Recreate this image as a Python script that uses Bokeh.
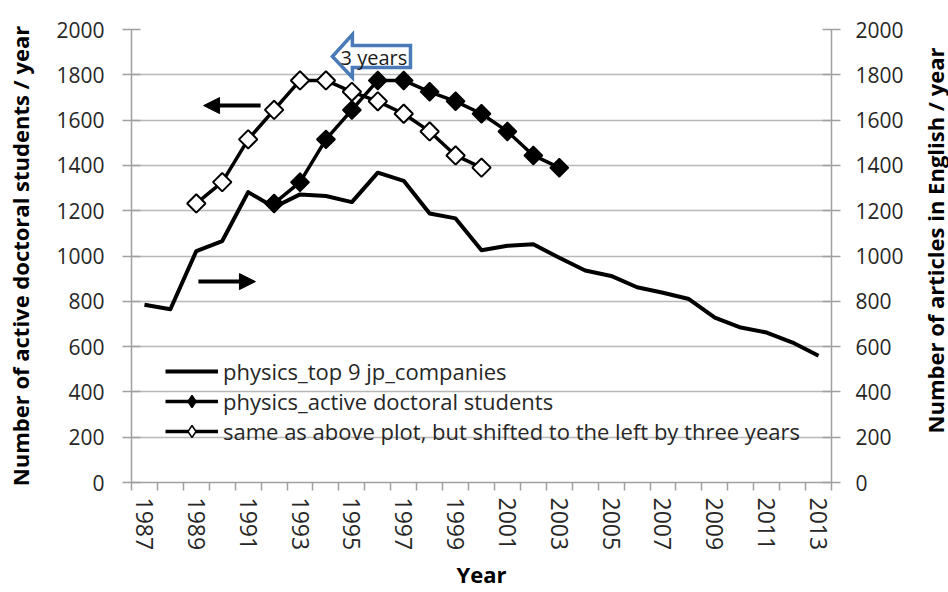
import math
from bokeh.plotting import figure
from bokeh.layouts import row
from bokeh.models import (Range1d, LinearAxis, FixedTicker, Grid, Legend, LegendItem,
                          Arrow, NormalHead, Label, PolyAnnotation)
from bokeh.embed import file_html
from bokeh.resources import INLINE

# ---------------- data ----------------
company_years = list(range(1987, 2014))
company_articles = [785, 765, 1022, 1066, 1282, 1215, 1272, 1265, 1238, 1368, 1332, 1188,
                    1166, 1025, 1045, 1052, 992, 936, 912, 862, 838, 810, 728, 684, 662, 618, 560]

student_years = list(range(1992, 2004))
student_counts = [1232, 1326, 1515, 1645, 1775, 1775, 1725, 1683, 1628, 1550, 1444, 1390]

shifted_years = list(range(1989, 2001))
shifted_counts = [1232, 1326, 1515, 1645, 1775, 1775, 1725, 1683, 1628, 1550, 1444, 1390]

y_ticks = [0, 200, 400, 600, 800, 1000, 1200, 1400, 1600, 1800, 2000]
year_labels = list(range(1987, 2014, 2))
year_bounds = [1986.5 + i for i in range(28)]

legend_labels = ["physics_top 9 jp_companies",
                 "physics_active doctoral students",
                 "same as above plot, but shifted to the left by three years"]

left_title = "Number of active doctoral students / year"
right_title = "Number of articles in English / year"
bottom_title = "Year"

# annotation geometry (data units)
left_arrow = dict(x_start=1991.48, x_end=1989.28, y=1664)
right_arrow = dict(x_start=1989.08, x_end=1991.28, y=887)
callout_xs = [1994.25, 1995.02, 1995.02, 1997.26, 1997.26, 1995.02, 1995.02]
callout_ys = [1881, 1978, 1929, 1929, 1832, 1832, 1788]
callout_text_pos = (1995.85, 1878)

FONT = "Open Sans"
TXT = "#262626"
AXC = "#a0a0a0"

H = 592
RW = 34                    # right strip holding the upward-reading right title
PW = 948 - RW              # main figure width
BL, BT, FW, FH = 131, 29, 700, 453

p = figure(width=PW, height=H, x_range=Range1d(1986.5, 2013.5), y_range=Range1d(0, 2000),
           x_axis_type=None, y_axis_type=None, output_backend="svg", toolbar_location=None,
           min_border_left=BL, min_border_right=PW - BL - FW, min_border_top=BT,
           min_border_bottom=H - BT - FH)
p.extra_y_ranges = {"right": Range1d(0, 2000)}
p.outline_line_color = None

p.add_layout(Grid(dimension=1, ticker=FixedTicker(ticks=y_ticks),
                  grid_line_color="#b8b8b8", grid_line_width=1.5))

def style_axis(ax):
    ax.axis_line_color = AXC
    ax.axis_line_width = 1.5
    ax.major_label_text_font = FONT
    ax.major_label_text_color = TXT
    ax.axis_label_text_font = FONT
    ax.axis_label_text_font_size = "22px"
    ax.axis_label_text_font_style = "bold"
    ax.axis_label_text_color = "black"

def style_y(ax):
    style_axis(ax)
    ax.ticker = FixedTicker(ticks=y_ticks)
    ax.major_tick_line_color = AXC
    ax.major_tick_line_width = 1.5
    ax.major_tick_in = 9
    ax.major_tick_out = 9
    ax.minor_tick_line_color = None
    ax.major_label_text_font_size = "21px"

yl = LinearAxis(axis_label=left_title)
style_y(yl)
yl.major_label_standoff = 18
yl.axis_label_standoff = 18
p.add_layout(yl, "left")

yr = LinearAxis(y_range_name="right")
style_y(yr)
yr.major_label_standoff = 15
p.add_layout(yr, "right")

xa = LinearAxis(axis_label=bottom_title)
style_axis(xa)
xa.ticker = FixedTicker(ticks=year_labels, minor_ticks=year_bounds)
xa.major_tick_line_color = None
xa.major_tick_out = 8
xa.major_tick_in = 0
xa.minor_tick_line_color = AXC
xa.minor_tick_line_width = 1.5
xa.minor_tick_out = 8
xa.minor_tick_in = 0
xa.major_label_orientation = "vertical"
xa.major_label_standoff = 7
xa.major_label_text_font_size = "23px"
xa.axis_label_standoff = 6
p.add_layout(xa, "below")

# ---------------- series ----------------
r1 = p.line(company_years, company_articles, y_range_name="right",
            line_color="black", line_width=4, line_join="round")

r2l = p.line(student_years, student_counts, line_color="black", line_width=3.5)
r2m = p.scatter(student_years, student_counts, marker="square", size=13, angle=math.pi / 4,
                fill_color="black", line_color="black", line_width=1.5)

r3l = p.line(shifted_years, shifted_counts, line_color="black", line_width=3.5)
r3m = p.scatter(shifted_years, shifted_counts, marker="square", size=13, angle=math.pi / 4,
                fill_color="white", line_color="black", line_width=2)

# legend-only diamond swatches (no data points)
nan = float("nan")
k2 = p.scatter([nan], [nan], marker="diamond", size=13, fill_color="black",
               line_color="black", line_width=1.5)
k3 = p.scatter([nan], [nan], marker="diamond", size=13, fill_color="white",
               line_color="black", line_width=1.5)

# ---------------- annotations ----------------
for arr in (left_arrow, right_arrow):
    p.add_layout(Arrow(end=NormalHead(size=16, fill_color="black", line_color="black", line_width=1),
                       x_start=arr["x_start"], y_start=arr["y"],
                       x_end=arr["x_end"], y_end=arr["y"],
                       line_width=4, line_color="black"))

p.add_layout(PolyAnnotation(xs=callout_xs, ys=callout_ys, fill_color="white", fill_alpha=1,
                            line_color="#4a7ab8", line_alpha=1, line_width=3.5,
                            line_join="miter"))
p.add_layout(Label(x=callout_text_pos[0], y=callout_text_pos[1], text="3 years",
                   text_align="center", text_baseline="middle", text_font=FONT,
                   text_font_size="20px", text_color="#1a1a1a"))

legend = Legend(items=[LegendItem(label=legend_labels[0], renderers=[r1]),
                       LegendItem(label=legend_labels[1], renderers=[r2l, k2]),
                       LegendItem(label=legend_labels[2], renderers=[r3l, k3])],
                location=(34, 36), padding=0, margin=0, spacing=0,
                glyph_width=53, glyph_height=30, label_height=30, label_standoff=5,
                border_line_color=None, background_fill_alpha=0,
                label_text_font=FONT, label_text_font_size="22px", label_text_color=TXT)
p.add_layout(legend)

# ---------------- right strip: title reading bottom-to-top ----------------
# (its frame is aligned with the main frame: rows 29..482)
qr = figure(width=RW, height=H, x_range=Range1d(0, 1), y_range=Range1d(0, 1),
            x_axis_type=None, y_axis_type=None, output_backend="svg",
            toolbar_location=None, min_border=0)
qr.outline_line_color = None
qr.grid.visible = False
qr.add_layout(Label(x=20, y=(BT + FH) - 240, x_units="screen", y_units="screen",
                    text=right_title, angle=math.pi / 2, text_align="center",
                    text_baseline="middle", text_font=FONT, text_font_size="22px",
                    text_font_style="bold", text_color="black"))

layout = row(p, qr, spacing=0)
open("out.html", "w").write(file_html(layout, INLINE))
